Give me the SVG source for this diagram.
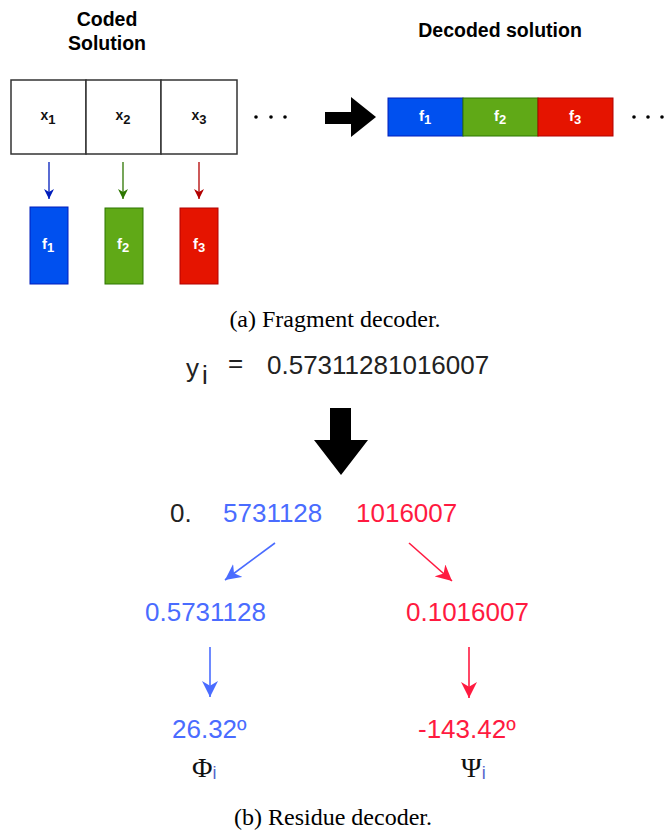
<svg xmlns="http://www.w3.org/2000/svg" width="664" height="832" viewBox="0 0 664 832">
<style>
.title{font-family:"Liberation Sans",Arial,sans-serif;font-weight:bold;font-size:19.5px;fill:#000;text-anchor:middle}
.xl{font-family:"Liberation Sans",Arial,sans-serif;font-weight:bold;font-size:14px;fill:#111;text-anchor:middle}
.fl{font-family:"Liberation Sans",Arial,sans-serif;font-weight:bold;font-size:15px;fill:#fff;text-anchor:middle}
.num{font-family:"Liberation Sans",Arial,sans-serif;font-size:26px}
.cap{font-family:"Liberation Serif","Times New Roman",serif;font-size:24px;fill:#000;text-anchor:middle}
.greek{font-family:"Liberation Serif","Times New Roman",serif;font-size:28px;fill:#111}
.cell{fill:#fff;stroke:#333;stroke-width:1.5}
.dot{fill:#000}
</style>
<defs>
<marker id="mb" viewBox="0 0 10 10" refX="10" refY="5" markerWidth="10" markerHeight="10" markerUnits="userSpaceOnUse" orient="auto"><path d="M0,0 L10,5 L0,10 L3,5 z" fill="#001DBC"/></marker>
<marker id="mg" viewBox="0 0 10 10" refX="10" refY="5" markerWidth="10" markerHeight="10" markerUnits="userSpaceOnUse" orient="auto"><path d="M0,0 L10,5 L0,10 L3,5 z" fill="#2D7600"/></marker>
<marker id="mr" viewBox="0 0 10 10" refX="10" refY="5" markerWidth="10" markerHeight="10" markerUnits="userSpaceOnUse" orient="auto"><path d="M0,0 L10,5 L0,10 L3,5 z" fill="#B20000"/></marker>
<marker id="MB" viewBox="0 0 10 10" refX="10" refY="5" markerWidth="16" markerHeight="16" markerUnits="userSpaceOnUse" orient="auto"><path d="M0,0 L10,5 L0,10 L3,5 z" fill="#4A6CFF"/></marker>
<marker id="MR" viewBox="0 0 10 10" refX="10" refY="5" markerWidth="16" markerHeight="16" markerUnits="userSpaceOnUse" orient="auto"><path d="M0,0 L10,5 L0,10 L3,5 z" fill="#FF1A40"/></marker>
</defs>

<g id="coded-title">
<text class="title" x="107" y="26">Coded</text>
<text class="title" x="107" y="50">Solution</text>
</g>
<g id="decoded-title"><text class="title" x="500" y="37">Decoded solution</text></g>

<g id="coded-x1"><rect class="cell" x="11" y="80" width="75" height="74"/><text class="xl" x="48" y="120">x<tspan font-size="13" dy="4">1</tspan></text></g>
<g id="coded-x2"><rect class="cell" x="86" y="80" width="75" height="74"/><text class="xl" x="123" y="120">x<tspan font-size="13" dy="4">2</tspan></text></g>
<g id="coded-x3"><rect class="cell" x="161" y="80" width="76" height="74"/><text class="xl" x="199" y="120">x<tspan font-size="13" dy="4">3</tspan></text></g>
<g id="coded-dots"><circle class="dot" cx="256" cy="117" r="1.8"/><circle class="dot" cx="271" cy="117" r="1.8"/><circle class="dot" cx="285" cy="117" r="1.8"/></g>

<g id="frag-f1"><rect x="30" y="207" width="38" height="77" fill="#0050EF" stroke="#001DBC"/><text class="fl" x="48" y="249">f<tspan font-size="13" dy="3">1</tspan></text></g>
<g id="frag-f2"><rect x="105" y="208" width="38" height="76" fill="#60A917" stroke="#2D7600"/><text class="fl" x="123" y="249">f<tspan font-size="13" dy="3">2</tspan></text></g>
<g id="frag-f3"><rect x="180" y="208" width="38" height="76" fill="#E51400" stroke="#B20000"/><text class="fl" x="199" y="249">f<tspan font-size="13" dy="3">3</tspan></text></g>

<g id="big-right-arrow"><polygon points="325,112 351,112 351,97 376,117 351,137 351,124 325,124" fill="#000"/></g>

<g id="decoded-bar">
<rect x="388" y="98" width="75" height="38" fill="#0050EF" stroke="#001DBC"/>
<rect x="463" y="98" width="75" height="38" fill="#60A917" stroke="#2D7600"/>
<rect x="538" y="98" width="75" height="38" fill="#E51400" stroke="#B20000"/>
<text class="fl" x="425" y="121">f<tspan font-size="13" dy="3">1</tspan></text>
<text class="fl" x="500" y="121">f<tspan font-size="13" dy="3">2</tspan></text>
<text class="fl" x="575" y="121">f<tspan font-size="13" dy="3">3</tspan></text>
</g>
<g id="decoded-dots"><circle class="dot" cx="634" cy="117" r="1.8"/><circle class="dot" cx="648" cy="117" r="1.8"/><circle class="dot" cx="662" cy="117" r="1.8"/></g>

<g id="caption-a"><text class="cap" x="335" y="327">(a) Fragment decoder.</text></g>

<g id="yi-eq">
<text class="num" x="186" y="377" fill="#222" font-size="31">y</text>
<text class="num" x="202" y="384" fill="#222" font-size="22">i</text>
<text class="num" x="228" y="372" fill="#222" font-size="24">=</text>
<text class="num" x="267" y="374" fill="#222">0.57311281016007</text>
</g>

<g id="big-down-arrow"><polygon points="330,408 351,408 351,440 368,440 341,475 314,440 330,440" fill="#000"/></g>

<g id="split">
<text class="num" x="170" y="522" fill="#222">0.</text>
<text class="num" x="223" y="522" fill="#4A6CFF">5731128</text>
<text class="num" x="356" y="522" fill="#FF1A40">1016007</text>
</g>

<g id="phi-frac"><text class="num" x="145" y="621" fill="#4A6CFF">0.5731128</text></g>
<g id="psi-frac"><text class="num" x="406" y="621" fill="#FF1A40">0.1016007</text></g>
<g id="phi-val"><text class="num" x="172" y="738" fill="#4A6CFF">26.32º</text></g>
<g id="psi-val"><text class="num" x="418" y="738" fill="#FF1A40">-143.42º</text></g>
<g id="phi-sym"><text class="greek" x="192" y="777">Φ<tspan font-family="Liberation Sans,Arial,sans-serif" font-size="18" fill="#5566cc" dy="2">i</tspan></text></g>
<g id="psi-sym"><text class="greek" x="461" y="777">Ψ<tspan font-family="Liberation Sans,Arial,sans-serif" font-size="18" fill="#5566cc" dy="2">i</tspan></text></g>

<g id="connectors" fill="none">
<line x1="49" y1="162" x2="49" y2="199" stroke="#001DBC" stroke-width="1.3" marker-end="url(#mb)"/>
<line x1="123" y1="162" x2="123" y2="199" stroke="#2D7600" stroke-width="1.3" marker-end="url(#mg)"/>
<line x1="199" y1="162" x2="199" y2="199" stroke="#B20000" stroke-width="1.3" marker-end="url(#mr)"/>
<line x1="275" y1="543" x2="225" y2="580" stroke="#4A6CFF" stroke-width="1.6" marker-end="url(#MB)"/>
<line x1="409" y1="543" x2="452" y2="581" stroke="#FF1A40" stroke-width="1.6" marker-end="url(#MR)"/>
<line x1="210" y1="647" x2="210" y2="697" stroke="#4A6CFF" stroke-width="1.6" marker-end="url(#MB)"/>
<line x1="469" y1="647" x2="469" y2="698" stroke="#FF1A40" stroke-width="1.6" marker-end="url(#MR)"/>
</g>

<g id="caption-b"><text class="cap" x="333" y="825">(b) Residue decoder.</text></g>
</svg>
